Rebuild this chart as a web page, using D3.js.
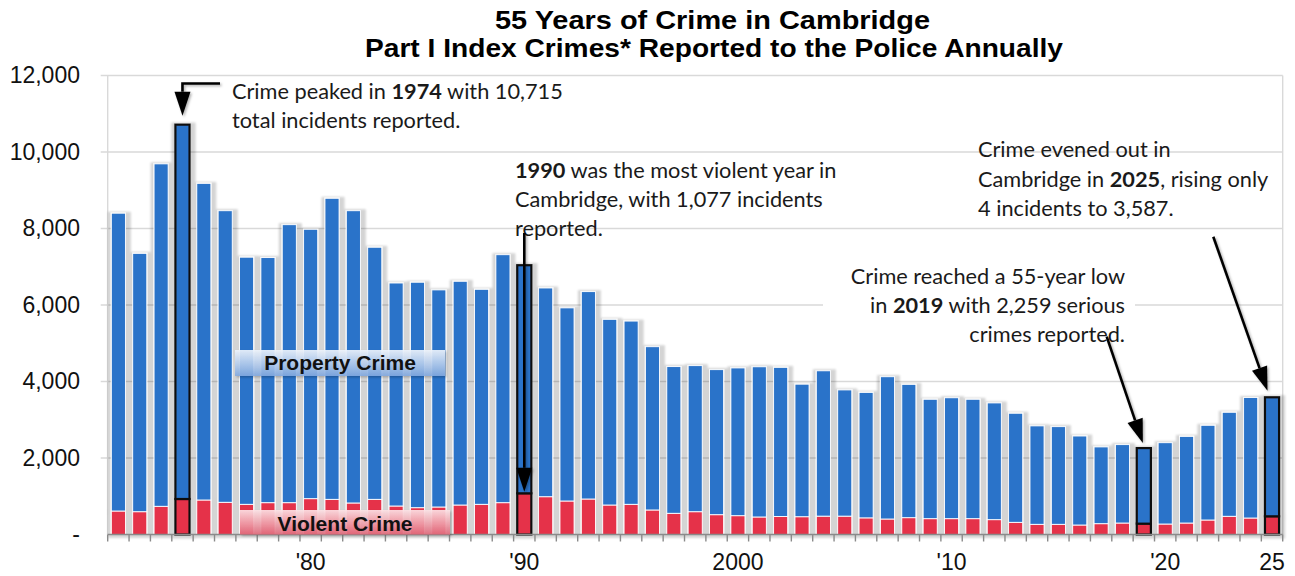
<!DOCTYPE html>
<html>
<head>
<meta charset="utf-8">
<script src="https://cdn.jsdelivr.net/npm/d3@7"></script>
<style>
  body { margin: 0; background: #fff; }
  svg { display: block; }
</style>
</head>
<body>
<svg id="chart" width="1295" height="576"></svg>
<script>
// Cambridge Part I index crimes, 1971-2025
const years = [1971,1972,1973,1974,1975,1976,1977,1978,1979,1980,
  1981,1982,1983,1984,1985,1986,1987,1988,1989,1990,
  1991,1992,1993,1994,1995,1996,1997,1998,1999,2000,
  2001,2002,2003,2004,2005,2006,2007,2008,2009,2010,
  2011,2012,2013,2014,2015,2016,2017,2018,2019,2020,
  2021,2022,2023,2024,2025];

const violent = [614,596,737,928,902,842,789,832,832,937,
  919,824,919,745,701,719,771,789,832,1077,
  988,876,928,771,789,641,554,596,518,492,
  458,470,465,480,480,435,405,440,414,414,
  414,388,318,266,266,248,283,300,283,274,
  300,379,476,431,476];

const property = [7786,6754,8953,9787,8278,7623,6461,6408,7268,7043,
  7871,7641,6591,5830,5894,5676,5849,5621,6483,5963,
  5457,5049,5422,4854,4791,4269,3836,3819,3792,3863,
  3927,3900,3465,3800,3300,3280,3720,3485,3121,3161,
  3121,3052,2852,2574,2554,2327,2007,2050,1976,2126,
  2265,2476,2719,3152,3111];

const yTickValues = [0, 2000, 4000, 6000, 8000, 10000, 12000];
const yTickLabels = ["-", "2,000", "4,000", "6,000", "8,000", "10,000", "12,000"];
const xLabelYears = [1980, 1990, 2000, 2010, 2020, 2025];
const xLabelText = ["'80", "'90", "2000", "'10", "'20", "25"];
const highlightYears = [1974, 1990, 2019, 2025];

const seriesKeys = ["violent", "property"];
const seriesColors = { violent: "#e5304a", property: "#2b73c9" };

const rows = years.map((yr, i) => ({ year: yr, violent: violent[i], property: property[i] }));
const total = yr => { const r = rows.find(d => d.year === yr); return r.violent + r.property; };

const svg = d3.select("#chart");
const plotLeft = 107.7, plotRight = 1282.7, plotTop = 75.5, plotBottom = 534.5;

const x = d3.scaleBand().domain(years).range([plotLeft, plotRight])
  .paddingInner(0.34).paddingOuter(0.17);
const y = d3.scaleLinear().domain([0, 12000]).range([plotBottom, plotTop]);
const cx = yr => x(yr) + x.bandwidth() / 2;

// ---- filters & gradients
const defs = svg.append("defs");
// soft grey halo around each bar
const bs = defs.append("filter").attr("id", "barShadow")
  .attr("x", "-60%").attr("y", "-5%").attr("width", "220%").attr("height", "110%");
bs.append("feMorphology").attr("in", "SourceAlpha").attr("operator", "dilate").attr("radius", "3.6 1.5");
bs.append("feGaussianBlur").attr("stdDeviation", 1.3);
bs.append("feOffset").attr("dx", 0.6).attr("dy", 0.5);
bs.append("feComponentTransfer").append("feFuncA").attr("type", "linear").attr("slope", 0.17);
const bsm = bs.append("feMerge");
bsm.append("feMergeNode");
bsm.append("feMergeNode").attr("in", "SourceGraphic");

const as = defs.append("filter").attr("id", "arrowShadow")
  .attr("x", "-20%").attr("y", "-20%").attr("width", "140%").attr("height", "140%");
as.append("feDropShadow").attr("dx", 1.5).attr("dy", 1.5).attr("stdDeviation", 1)
  .attr("flood-color", "#000").attr("flood-opacity", 0.3);

const lblShadow = defs.append("filter").attr("id", "labelShadow")
  .attr("x", "-10%").attr("y", "-30%").attr("width", "120%").attr("height", "160%");
lblShadow.append("feDropShadow").attr("dx", 1.5).attr("dy", 1.5).attr("stdDeviation", 1.2)
  .attr("flood-color", "#000").attr("flood-opacity", 0.25);

function vGrad(id, stops) {
  const g = defs.append("linearGradient").attr("id", id)
    .attr("x1", 0).attr("y1", 0).attr("x2", 0).attr("y2", 1);
  stops.forEach(s => g.append("stop").attr("offset", s[0]).attr("stop-color", s[1]).attr("stop-opacity", s[2]));
}
vGrad("propGrad", [[0, "#eef4fc", 0.92], [0.5, "#bcd2f0", 0.88], [1, "#82a9e0", 0.9]]);
vGrad("violGrad", [[0, "#fde3e6", 0.92], [0.5, "#f3a9b3", 0.88], [1, "#e26a7c", 0.9]]);

// ---- gridlines and frame
svg.append("g").selectAll("line").data(yTickValues.filter(v => v > 0)).join("line")
  .attr("x1", plotLeft - 7).attr("x2", plotRight)
  .attr("y1", d => y(d)).attr("y2", d => y(d))
  .attr("stroke", "#d9d9d9").attr("stroke-width", 1.4);
svg.append("line").attr("x1", plotLeft).attr("x2", plotLeft)
  .attr("y1", y(12000)).attr("y2", y(0)).attr("stroke", "#d9d9d9").attr("stroke-width", 1.4);
svg.append("line").attr("x1", plotRight).attr("x2", plotRight)
  .attr("y1", y(12000)).attr("y2", y(0)).attr("stroke", "#d9d9d9").attr("stroke-width", 1.4);

// ---- stacked bars
const stacked = d3.stack().keys(seriesKeys)(rows);
const barLayer = svg.append("g").attr("filter", "url(#barShadow)");
barLayer.selectAll("g").data(stacked).join("g")
  .attr("fill", d => seriesColors[d.key])
  .selectAll("rect").data(d => d).join("rect")
  .attr("x", d => x(d.data.year))
  .attr("width", x.bandwidth())
  .attr("y", d => y(d[1]))
  .attr("height", d => y(d[0]) - y(d[1]))
  .attr("stroke", d => highlightYears.includes(d.data.year) ? "#111" : "#fff")
  .attr("stroke-width", d => highlightYears.includes(d.data.year) ? 2.2 : 0.9);

// ---- x axis line and ticks at category boundaries
svg.append("line").attr("x1", plotLeft).attr("x2", plotRight)
  .attr("y1", plotBottom).attr("y2", plotBottom)
  .attr("stroke", "#8a8a8a").attr("stroke-width", 1.6);
const boundaries = d3.range(years.length + 1).map(i => x.range()[0] + i * x.step());
svg.append("g").selectAll("line").data(boundaries).join("line")
  .attr("x1", d => d).attr("x2", d => d)
  .attr("y1", plotBottom).attr("y2", plotBottom + 7)
  .attr("stroke", "#8a8a8a").attr("stroke-width", 1.4);

const xAxis = svg.append("g").attr("transform", `translate(0,${plotBottom})`)
  .call(d3.axisBottom(x).tickValues(xLabelYears)
    .tickFormat(d => xLabelText[xLabelYears.indexOf(d)])
    .tickSize(0).tickPadding(19));
xAxis.select(".domain").remove();
xAxis.selectAll("text").attr("font-family", "Liberation Sans, Arial, sans-serif")
  .attr("font-size", 23).attr("fill", "#111");

const yAxis = svg.append("g").attr("transform", "translate(80,0)")
  .call(d3.axisLeft(y).tickValues(yTickValues)
    .tickFormat(d => yTickLabels[yTickValues.indexOf(d)])
    .tickSize(0).tickPadding(0));
yAxis.select(".domain").remove();
yAxis.selectAll("text").attr("font-family", "Liberation Sans, Arial, sans-serif")
  .attr("font-size", 23).attr("fill", "#111");

// ---- series labels
function seriesLabel(x0, y0, w, h, grad, text, tx, ty) {
  svg.append("rect").attr("x", x0).attr("y", y0).attr("width", w).attr("height", h)
    .attr("fill", `url(#${grad})`).attr("filter", "url(#labelShadow)");
  svg.append("text").attr("x", tx).attr("y", ty).attr("text-anchor", "middle")
    .attr("font-family", "Liberation Sans, Arial, sans-serif").attr("font-weight", "bold")
    .attr("font-size", 21).attr("fill", "#111").text(text);
}
seriesLabel(235, 350, 210, 26, "propGrad", "Property Crime", 340, 370);
seriesLabel(240, 510, 210, 24.5, "violGrad", "Violent Crime", 345, 531);

// ---- title
const title = svg.append("g").attr("font-family", "Liberation Sans, Arial, sans-serif")
  .attr("font-weight", "bold").attr("font-size", 26).attr("fill", "#000").attr("text-anchor", "middle");
title.append("text").attr("x", 712.5).attr("y", 28.5)
  .attr("textLength", 435).attr("lengthAdjust", "spacingAndGlyphs")
  .text("55 Years of Crime in Cambridge");
title.append("text").attr("x", 714).attr("y", 57)
  .attr("textLength", 698).attr("lengthAdjust", "spacingAndGlyphs")
  .text("Part I Index Crimes* Reported to the Police Annually");

// ---- annotations
const noteFont = "Lato, 'Open Sans', sans-serif";
// size the note font so the first note line spans its box width
const probe = svg.append("text").attr("font-family", noteFont).attr("font-size", 20);
probe.append("tspan").text("Crime peaked in ");
probe.append("tspan").attr("font-weight", "bold").text("1974");
probe.append("tspan").text(" with 10,715");
const noteSize = 20 * 331 / probe.node().getComputedTextLength();
probe.remove();

function note(xPos, baselines, lines, anchor) {
  const g = svg.append("g").attr("font-family", noteFont).attr("font-size", noteSize)
    .attr("fill", "#1a1a1a").attr("text-anchor", anchor);
  lines.forEach((segs, i) => {
    const t = g.append("text").attr("x", xPos).attr("y", baselines[i]);
    segs.forEach(s => t.append("tspan").attr("font-weight", s[1] ? "bold" : null).text(s[0]));
  });
}

// white panel behind the 2019 note hides the gridline there
svg.append("rect").attr("x", 823).attr("y", 262).attr("width", 312).attr("height", 88).attr("fill", "#fff");

note(232, [99, 128], [
  [["Crime peaked in ", 0], ["1974", 1], [" with 10,715", 0]],
  [["total incidents reported.", 0]]
], "start");
note(515, [178, 207, 235.5], [
  [["1990", 1], [" was the most violent year in", 0]],
  [["Cambridge, with 1,077 incidents", 0]],
  [["reported.", 0]]
], "start");
note(978, [157, 186.5, 215.5], [
  [["Crime evened out in", 0]],
  [["Cambridge in ", 0], ["2025", 1], [", rising only", 0]],
  [["4 incidents to 3,587.", 0]]
], "start");
note(1125, [283.5, 312.5, 341.5], [
  [["Crime reached a 55-year low", 0]],
  [["in ", 0], ["2019", 1], [" with 2,259 serious", 0]],
  [["crimes reported.", 0]]
], "end");

// ---- arrows
function arrow(points, tip, headLen = 24, headHalf = 8) {
  const last = points[points.length - 1];
  const dx = tip[0] - last[0], dy = tip[1] - last[1];
  const len = Math.hypot(dx, dy);
  const ux = dx / len, uy = dy / len;
  const base = [tip[0] - ux * headLen, tip[1] - uy * headLen];
  const g = svg.append("g").attr("filter", "url(#arrowShadow)");
  g.append("path").attr("d", d3.line()([...points, base]))
    .attr("fill", "none").attr("stroke", "#000").attr("stroke-width", 2.6);
  g.append("path").attr("d", d3.line()([
    tip,
    [base[0] - uy * headHalf, base[1] + ux * headHalf],
    [base[0] + uy * headHalf, base[1] - ux * headHalf]
  ]) + "Z").attr("fill", "#000");
}

arrow([[220, 83.5], [cx(1974), 83.5]], [cx(1974), y(total(1974)) - 9]);
arrow([[cx(1990), 233]], [cx(1990), y(violent[years.indexOf(1990)]) - 1.5]);
arrow([[1106.7, 336.7]], [cx(2019) - 1, y(total(2019)) - 5]);
arrow([[1213.3, 236.7]], [cx(2025) - 4.5, y(total(2025)) - 6.5]);
</script>
</body>
</html>
